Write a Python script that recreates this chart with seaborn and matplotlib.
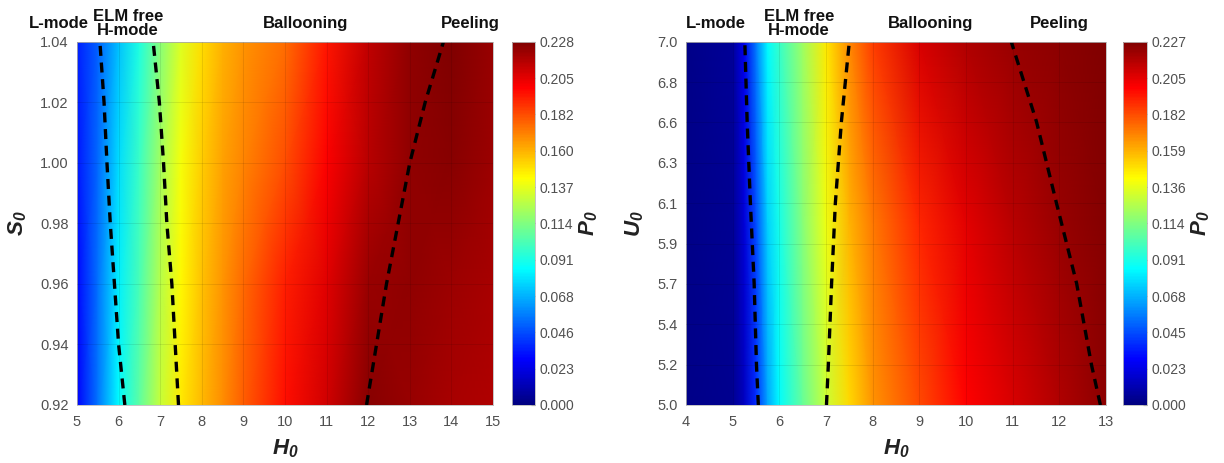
import numpy as np
import pandas as pd
import seaborn as sns
import matplotlib
matplotlib.use('Agg')
import matplotlib.pyplot as plt
from matplotlib.colors import LinearSegmentedColormap

# ---- datos ----
# panel izquierdo: P0(H0, S0)
h_izq = [5, 5.5, 6, 6.5, 7, 7.5, 8, 8.5, 9, 10, 11, 12, 13, 14, 15]
s_filas = [0.92, 0.96, 1.00, 1.04]
p_s092 = [0.028, 0.055, 0.085, 0.106, 0.130, 0.147, 0.158, 0.168, 0.179, 0.196, 0.210, 0.226, 0.222, 0.219, 0.217]
p_s096 = [0.030, 0.054, 0.082, 0.102, 0.126, 0.144, 0.156, 0.166, 0.176, 0.193, 0.206, 0.222, 0.224, 0.221, 0.219]
p_s100 = [0.033, 0.052, 0.078, 0.098, 0.122, 0.140, 0.154, 0.163, 0.170, 0.182, 0.200, 0.215, 0.224, 0.226, 0.221]
p_s104 = [0.035, 0.050, 0.072, 0.092, 0.115, 0.135, 0.150, 0.160, 0.166, 0.175, 0.195, 0.213, 0.224, 0.228, 0.222]

# panel derecho: P0(H0, U0)
h_der = [4, 5, 5.25, 5.5, 5.75, 6, 6.5, 7, 7.5, 8, 9, 10, 11, 12, 13]
u_filas = [5.0, 6.0, 7.0]
p_u50 = [0.002, 0.004, 0.015, 0.038, 0.065, 0.085, 0.108, 0.130, 0.150, 0.165, 0.182, 0.198, 0.207, 0.216, 0.224]
p_u60 = [0.002, 0.005, 0.020, 0.045, 0.075, 0.090, 0.115, 0.138, 0.158, 0.172, 0.190, 0.204, 0.214, 0.221, 0.226]
p_u70 = [0.002, 0.006, 0.025, 0.055, 0.085, 0.097, 0.120, 0.147, 0.168, 0.185, 0.207, 0.216, 0.221, 0.224, 0.227]

# fronteras (lineas discontinuas)
s_front = [0.92, 0.94, 0.96, 0.98, 1.00, 1.02, 1.04]
izq_lmode = [6.15, 6.00, 5.90, 5.80, 5.72, 5.65, 5.55]
izq_elm = [7.44, 7.36, 7.28, 7.16, 7.08, 6.98, 6.83]
izq_peel = [11.96, 12.20, 12.44, 12.72, 13.00, 13.37, 13.81]

u_front = [5.0, 5.22, 5.67, 6.11, 6.56, 7.0]
der_lmode = [5.55, 5.51, 5.46, 5.38, 5.31, 5.26]
der_elm = [7.01, 7.05, 7.12, 7.20, 7.33, 7.50]
der_peel = [12.88, 12.69, 12.37, 11.94, 11.51, 10.97]

# ticks
s_ticks = [0.92, 0.94, 0.96, 0.98, 1.00, 1.02, 1.04]
s_labels = ['0.92', '0.94', '0.96', '0.98', '1.00', '1.02', '1.04']
u_labels = ['5.0', '5.2', '5.4', '5.7', '5.9', '6.1', '6.3', '6.6', '6.8', '7.0']
cb_izq_labels = ['0.000', '0.023', '0.046', '0.068', '0.091', '0.114', '0.137', '0.160', '0.182', '0.205', '0.228']
cb_der_labels = ['0.000', '0.023', '0.045', '0.068', '0.091', '0.114', '0.136', '0.159', '0.182', '0.205', '0.227']

# regiones (texto superior)
regiones = ['L-mode', 'ELM free\nH-mode', 'Ballooning', 'Peeling']
pos_izq = [4.57, 6.22, 10.5, 14.45]
pos_der = [4.64, 6.42, 9.25, 11.99]

# ---- estilo ----
sns.set_theme(style='white')
plt.rcParams['font.family'] = ['Liberation Sans', 'DejaVu Sans']
plt.rcParams['mathtext.fontset'] = 'custom'
plt.rcParams['mathtext.bf'] = 'Liberation Sans:italic:bold'
gris = '#505050'

# jet al estilo MATLAB
jet_ml = LinearSegmentedColormap.from_list('jet_ml', [
    (0.0, (0, 0, 0.5)), (0.125, (0, 0, 1)), (0.375, (0, 1, 1)),
    (0.625, (1, 1, 0)), (0.875, (1, 0, 0)), (1.0, (0.5, 0, 0))])

fig = plt.figure(figsize=(12.24, 4.63), dpi=100)
W, H = 1224, 463
bottom = 1 - 405 / H
height = 363.3 / H
ax1 = fig.add_axes([77 / W, bottom, 416 / W, height])
cax1 = fig.add_axes([512 / W, bottom, 23 / W, height])
ax2 = fig.add_axes([686 / W, bottom, 420 / W, height])
cax2 = fig.add_axes([1123 / W, bottom, 24 / W, height])


def panel(ax, cax, hs, filas, P, vmax, fronteras, yfront, ylabel, pos,
          xticks, yticks, ylabels, cb_labels):
    X, Y = np.meshgrid(hs, filas)
    mesh = ax.pcolormesh(X, Y, np.array(P), shading='gouraud', cmap=jet_ml,
                         vmin=0, vmax=vmax, rasterized=True)
    for f in fronteras:
        df = pd.DataFrame({'h': f, 'y': yfront})
        sns.lineplot(data=df, x='h', y='y', sort=False, estimator=None, ax=ax,
                     color='black', lw=2.4, linestyle=(0, (3, 2)))
    ax.set_xlim(hs[0], hs[-1])
    ax.set_ylim(filas[0], filas[-1])
    ax.set_xticks(xticks)
    ax.set_yticks(yticks)
    ax.set_yticklabels(ylabels)
    ax.grid(True, color='black', alpha=0.1, lw=0.6)
    ax.set_axisbelow(False)
    ax.tick_params(colors=gris, labelsize=10.5, length=0)
    ax.tick_params(axis='x', pad=7)
    ax.tick_params(axis='y', pad=6)
    for sp in ax.spines.values():
        sp.set_color('#bbbbbb')
        sp.set_linewidth(0.6)
    ax.set_xlabel(r'$\mathbf{H_0}$', fontsize=16, color='#222222', labelpad=6)
    ax.set_ylabel(ylabel, fontsize=16, color='#222222', labelpad=8)
    for txt, x in zip(regiones, pos):
        ax.text(x, 1.05, txt, transform=ax.get_xaxis_transform(), ha='center',
                va='center', fontsize=12, fontweight='bold', color='#111111',
                linespacing=0.95, clip_on=False)
    cb = fig.colorbar(mesh, cax=cax)
    ticks = np.linspace(0, vmax, 11)
    cb.set_ticks(ticks)
    cb.set_ticklabels(cb_labels)
    cb.ax.tick_params(colors=gris, labelsize=10, length=3, direction='in', width=0.8)
    cb.outline.set_edgecolor('#bbbbbb')
    cb.outline.set_linewidth(0.6)
    cb.set_label(r'$\mathbf{P_0}$', fontsize=16, color='#222222', labelpad=2)


panel(ax1, cax1, h_izq, s_filas, [p_s092, p_s096, p_s100, p_s104], 0.228,
      [izq_lmode, izq_elm, izq_peel], s_front, r'$\mathbf{S_0}$', pos_izq,
      list(range(5, 16)), s_ticks, s_labels, cb_izq_labels)
panel(ax2, cax2, h_der, u_filas, [p_u50, p_u60, p_u70], 0.227,
      [der_lmode, der_elm, der_peel], u_front, r'$\mathbf{U_0}$', pos_der,
      list(range(4, 14)), np.linspace(5, 7, 10), u_labels, cb_der_labels)

fig.savefig('out.png', dpi=100)
